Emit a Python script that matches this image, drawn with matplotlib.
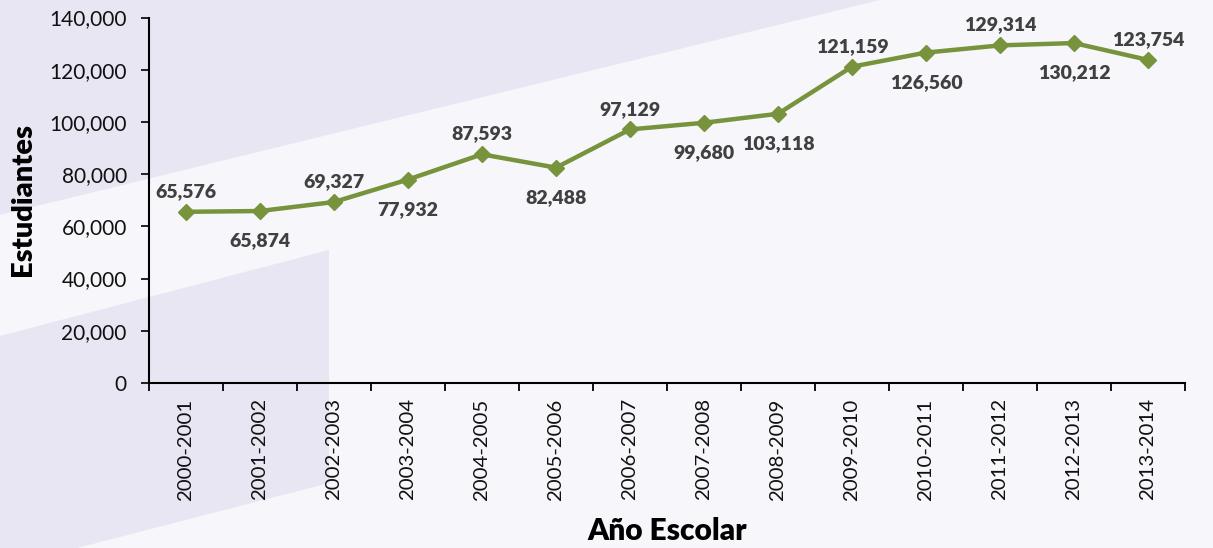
import matplotlib
matplotlib.use("Agg")
import matplotlib.pyplot as plt
from matplotlib.patches import Polygon
from matplotlib.ticker import FuncFormatter, FixedLocator, NullFormatter

years = ["2000-2001", "2001-2002", "2002-2003", "2003-2004", "2004-2005",
         "2005-2006", "2006-2007", "2007-2008", "2008-2009", "2009-2010",
         "2010-2011", "2011-2012", "2012-2013", "2013-2014"]
students = [65576, 65874, 69327, 77932, 87593, 82488, 97129, 99680,
            103118, 121159, 126560, 129314, 130212, 123754]
label_above = [True, False, True, False, True, False, True, False,
               False, True, False, True, False, True]

W, H = 1213, 548
plt.rcParams['font.family'] = ['Lato', 'DejaVu Sans']
fig = plt.figure(figsize=(W / 100, H / 100), dpi=100)
fig.patch.set_facecolor('#F7F6FB')

# background decoration (figure pixel coords)
bg = fig.add_axes([0, 0, 1, 1], zorder=0)
bg.set_xlim(0, W)
bg.set_ylim(H, 0)
bg.axis('off')
dark = '#E8E6F2'
bg.add_patch(Polygon([(0, 0), (880, 0), (0, 215)], closed=True, color=dark, lw=0))
bg.add_patch(Polygon([(0, 336), (329, 250), (329, 483), (77, 548), (0, 548)],
                     closed=True, color=dark, lw=0))

ax = fig.add_axes([149 / W, 1 - 383 / H, (1185 - 149) / W, (383 - 17.5) / H], zorder=1)
ax.set_facecolor('none')

x = list(range(len(years)))
ax.plot(x, students, color='#77933C', lw=3.2, marker='D', markersize=8,
        markeredgecolor='#77933C', markerfacecolor='#77933C', zorder=3)

for xi, v, up in zip(x, students, label_above):
    ax.annotate(f"{v:,}", (xi, v), xytext=(0, 8.5 if up else -15.5),
                textcoords='offset points', ha='center',
                va='bottom' if up else 'top', fontsize=14,
                fontweight='heavy', color='#404040')

ax.set_xlim(-0.5, len(years) - 0.5)
ax.set_ylim(0, 140000)
ax.set_yticks(range(0, 140001, 20000))
ax.yaxis.set_major_formatter(FuncFormatter(lambda v, p: f"{int(v):,}"))

ax.set_xticks(x)
ax.set_xticklabels(years, rotation=90)
ax.xaxis.set_minor_locator(FixedLocator([i - 0.5 for i in range(len(years) + 1)]))
ax.xaxis.set_minor_formatter(NullFormatter())
ax.tick_params(axis='x', which='major', length=0, pad=11, labelsize=14.7, colors='#111111')
ax.tick_params(axis='x', which='minor', length=6, width=1.3, color='black')
ax.tick_params(axis='y', which='major', length=6, width=1.3, pad=10, labelsize=15, colors='#111111')

for s in ['top', 'right']:
    ax.spines[s].set_visible(False)
for s in ['left', 'bottom']:
    ax.spines[s].set_linewidth(1.5)
    ax.spines[s].set_color('black')

fig.text(667 / W, 1 - 531 / H, "Año Escolar", ha='center', va='center',
         fontsize=21.5, fontweight='heavy', color='black')
fig.text(23 / W, 1 - 200 / H, "Estudiantes", ha='center', va='center',
         rotation=90, fontsize=21, fontweight='heavy', color='black')

fig.savefig("out.png", dpi=100, facecolor=fig.get_facecolor())
